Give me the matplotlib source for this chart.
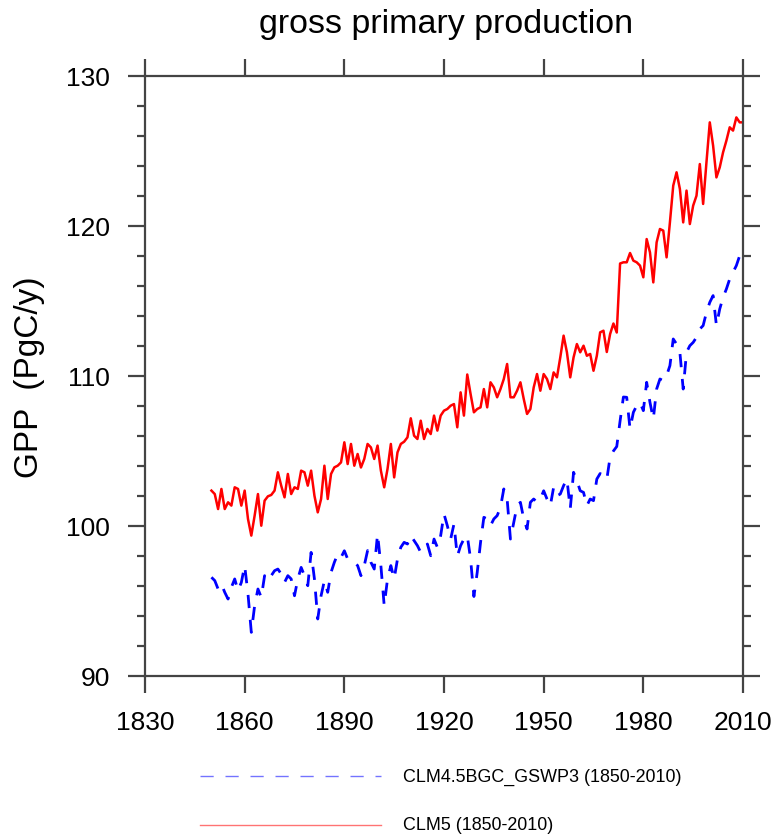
import numpy as np
import matplotlib
matplotlib.use("Agg")
import matplotlib.pyplot as plt
from matplotlib.lines import Line2D
from matplotlib.ticker import MultipleLocator, FixedLocator

plt.rcParams['font.family'] = ['Liberation Sans', 'DejaVu Sans']
plt.rcParams['lines.scale_dashes'] = False

# Annual global GPP (PgC/y), 1850-2010
years = np.arange(1850, 2011)

gpp_clm45 = [
    96.58, 96.36, 95.80, 96.13, 95.58, 95.13, 95.91, 96.47, 95.69, 96.24,
    97.36, 95.47, 92.91, 94.69, 95.80, 95.24, 96.69, 96.36, 96.69, 97.02,
    97.13, 96.80, 96.24, 96.69, 96.47, 95.35, 96.47, 97.24, 96.69, 96.02,
    98.24, 96.47, 93.80, 95.35, 96.36, 95.58, 96.91, 97.58, 98.13, 97.90,
    98.35, 97.80, 97.69, 97.58, 97.36, 96.69, 97.36, 98.36, 97.58, 97.13,
    99.47, 97.36, 94.69, 96.47, 97.36, 96.47, 97.80, 98.58, 98.91, 98.80,
    99.36, 99.02, 98.69, 98.24, 98.47, 98.80, 98.02, 99.13, 98.58, 99.36,
    100.80, 100.02, 99.13, 100.13, 97.98, 98.69, 99.13, 99.36, 97.80, 95.30,
    96.91, 98.91, 100.58, 100.47, 100.02, 100.47, 100.69, 101.24, 102.47, 101.80,
    99.13, 100.24, 101.35, 101.58, 100.47, 99.80, 101.58, 101.80, 101.58, 101.80,
    102.35, 101.80, 101.35, 102.58, 102.02, 102.13, 102.69, 103.13, 101.13, 103.58,
    103.02, 102.35, 102.24, 101.35, 101.80, 101.69, 103.13, 103.50, 103.35, 103.10,
    104.60, 105.00, 105.30, 107.00, 108.60, 108.58, 106.47, 107.58, 108.02, 108.24,
    107.69, 109.58, 108.24, 107.13, 109.13, 109.80, 109.69, 110.02, 110.69, 112.47,
    112.13, 111.58, 109.13, 111.58, 112.02, 112.24, 112.58, 113.13, 113.36, 114.24,
    114.91, 115.36, 113.36, 114.47, 115.24, 115.80, 116.47, 116.91, 117.36, 118.02,
    118.24,
]

gpp_clm5 = [
    102.36, 102.13, 101.13, 102.47, 101.13, 101.58, 101.36, 102.58, 102.47, 101.36,
    102.36, 100.47, 99.36, 100.69, 102.13, 100.02, 101.69, 101.98, 102.07, 102.36,
    103.58, 102.69, 101.91, 103.47, 102.13, 102.58, 102.47, 103.69, 103.58, 102.69,
    103.69, 102.02, 100.91, 101.80, 104.02, 101.80, 103.47, 103.91, 104.02, 104.24,
    105.58, 104.13, 105.47, 104.02, 104.80, 103.90, 104.47, 105.47, 105.24, 104.47,
    105.36, 103.69, 102.58, 103.80, 105.47, 103.24, 104.91, 105.47, 105.62, 105.91,
    107.18, 106.02, 105.80, 107.02, 105.80, 106.47, 106.13, 107.36, 106.36, 107.36,
    107.69, 107.80, 108.02, 108.13, 106.58, 108.91, 107.36, 110.10, 108.80, 107.58,
    107.80, 107.91, 109.13, 107.91, 109.58, 109.24, 108.58, 109.13, 109.80, 110.80,
    108.58, 108.58, 109.02, 109.58, 108.47, 107.47, 107.80, 109.24, 110.13, 109.02,
    110.13, 109.80, 109.13, 110.24, 109.91, 111.24, 112.69, 111.58, 109.91, 111.24,
    112.13, 111.58, 112.02, 111.35, 111.47, 110.35, 111.35, 112.91, 113.02, 111.60,
    112.80, 113.50, 112.90, 117.50, 117.58, 117.58, 118.20, 117.69, 117.58, 117.36,
    116.58, 119.13, 118.24, 116.24, 118.91, 119.80, 119.69, 117.91, 120.24, 122.69,
    123.58, 122.47, 120.24, 122.36, 120.13, 121.36, 122.02, 124.13, 121.47, 124.24,
    126.91, 125.36, 123.24, 123.91, 124.91, 125.69, 126.58, 126.36, 127.24, 126.91,
    126.91,
]

series_labels = ["CLM4.5BGC_GSWP3 (1850-2010)", "CLM5 (1850-2010)"]
x_ticks = [1830, 1860, 1890, 1920, 1950, 1980, 2010]
y_ticks = [90, 100, 110, 120, 130]

W, H = 776, 837
fig = plt.figure(figsize=(W / 100, H / 100), dpi=100)
ax = fig.add_axes([145 / W, 1 - 677 / H, 598 / W, 600 / H])

dash = (0, (9.5, 8.5))
ax.plot(years, gpp_clm45, color='blue', lw=2.0, linestyle=dash)
ax.plot(years, gpp_clm5, color='red', lw=1.8)

ax.set_xlim(1830, 2010)
ax.set_ylim(90, 130)
ax.xaxis.set_major_locator(FixedLocator(x_ticks))
ax.yaxis.set_major_locator(FixedLocator(y_ticks))
ax.yaxis.set_minor_locator(MultipleLocator(2))

frame_col = '#444444'
for sp in ax.spines.values():
    sp.set_color(frame_col)
    sp.set_linewidth(1.6)
ax.tick_params(which='both', direction='out', color=frame_col, width=1.6,
               top=True, right=True, labelsize=19, labelcolor='black')
ax.tick_params(which='major', length=12.2)
ax.tick_params(which='minor', length=5.8)
ax.tick_params(axis='x', pad=12)
ax.tick_params(axis='y', pad=13)

# Title and y-axis label
fig.text(446 / W, 1 - 33 / H, "gross primary production", ha='center',
         va='baseline', fontsize=24.5)
fig.text(30 / W, 1 - 377 / H, "GPP  (PgC/y)", rotation=90, ha='center',
         va='center', fontsize=24)

# Legend below the plot
legend_rows = [
    (777, 'blue', dash, series_labels[0]),
    (826, 'red', '-', series_labels[1]),
]
for ypx, col, ls, lab in legend_rows:
    yf = 1 - ypx / H
    fig.add_artist(Line2D([200 / W, 381 / W], [yf, yf], transform=fig.transFigure,
                          color=col, lw=1.0, linestyle=ls, alpha=0.55))
    fig.text(403 / W, yf, lab, ha='left', va='center', fontsize=12.9)

fig.savefig("out.png", dpi=100)
